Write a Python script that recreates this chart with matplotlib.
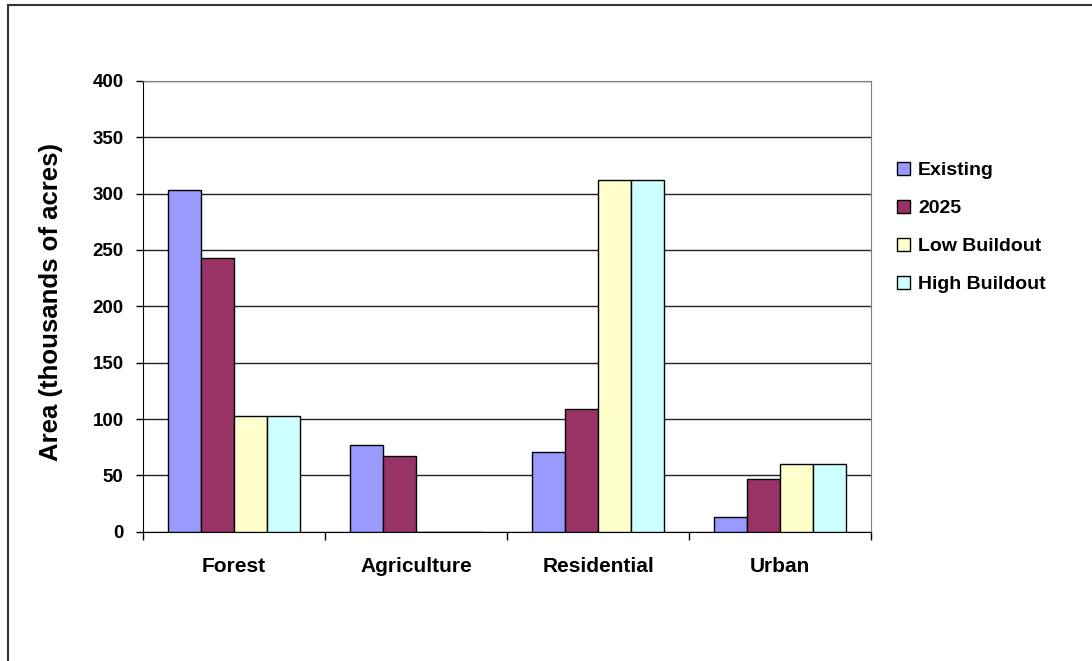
import numpy as np
import matplotlib
matplotlib.use("Agg")
import matplotlib.pyplot as plt
from matplotlib.lines import Line2D

plt.rcParams['font.family'] = ['Liberation Sans', 'DejaVu Sans']
plt.rcParams['font.weight'] = 'bold'
plt.rcParams['axes.labelweight'] = 'bold'

categories = ['Forest', 'Agriculture', 'Residential', 'Urban']
series = ['Existing', '2025', 'Low Buildout', 'High Buildout']
existing = [303, 77, 71, 13]
y2025 = [243, 67, 109, 47]
low_buildout = [103, 0, 312, 60]
high_buildout = [103, 0, 312, 60]
colors = ['#9999FF', '#993366', '#FFFFCC', '#CCFFFF']

fig = plt.figure(figsize=(10.92, 6.61), dpi=100)
ax = fig.add_axes([0.131, 0.1956, 0.6666, 0.682])

x = np.arange(len(categories))
w = 0.181
data = [existing, y2025, low_buildout, high_buildout]
for i, (vals, name) in enumerate(zip(data, series)):
    ax.bar(x + (i - 1.5) * w, vals, w, color=colors[i], edgecolor='black',
           linewidth=1, label=name, zorder=3)

ax.set_xlim(-0.5, 3.5)
ax.set_ylim(0, 400)
ax.set_yticks(np.arange(0, 401, 50))
ax.yaxis.grid(True, color='#222222', linewidth=1, zorder=0)
ax.tick_params(axis='y', direction='out', length=5, width=1, pad=9,
               labelsize=13.5, colors='black')

ax.set_xticks(x)
ax.set_xticklabels(categories, fontsize=15)
ax.set_xticks(np.arange(-0.5, 4.0, 1), minor=True)
ax.tick_params(axis='x', which='major', length=0, pad=18)
ax.tick_params(axis='x', which='minor', direction='out', length=6, width=1)

for s in ['top', 'right']:
    ax.spines[s].set_color('#808080')
for s in ['left', 'bottom']:
    ax.spines[s].set_color('black')

ax.set_ylabel('Area (thousands of acres)', fontsize=18.5)
ax.yaxis.set_label_coords(-0.11, 0.51)

handles = [plt.Rectangle((0, 0), 1, 1, facecolor=c, edgecolor='black', linewidth=1)
           for c in colors]
fig.legend(handles, series, loc='upper left', bbox_to_anchor=(0.805, 0.782),
           frameon=False, fontsize=14, handlelength=0.7, handleheight=0.7,
           handletextpad=0.4, labelspacing=1.05)

# outer frame (only top and left edges fall inside the canvas)
fig.add_artist(Line2D([8 / 1092, 1.0], [1 - 5 / 661, 1 - 5 / 661],
                      transform=fig.transFigure, color='#333333', linewidth=1.5))
fig.add_artist(Line2D([8 / 1092, 8 / 1092], [0.0, 1 - 5 / 661],
                      transform=fig.transFigure, color='#333333', linewidth=1.5))

fig.savefig('out.png', dpi=100)
